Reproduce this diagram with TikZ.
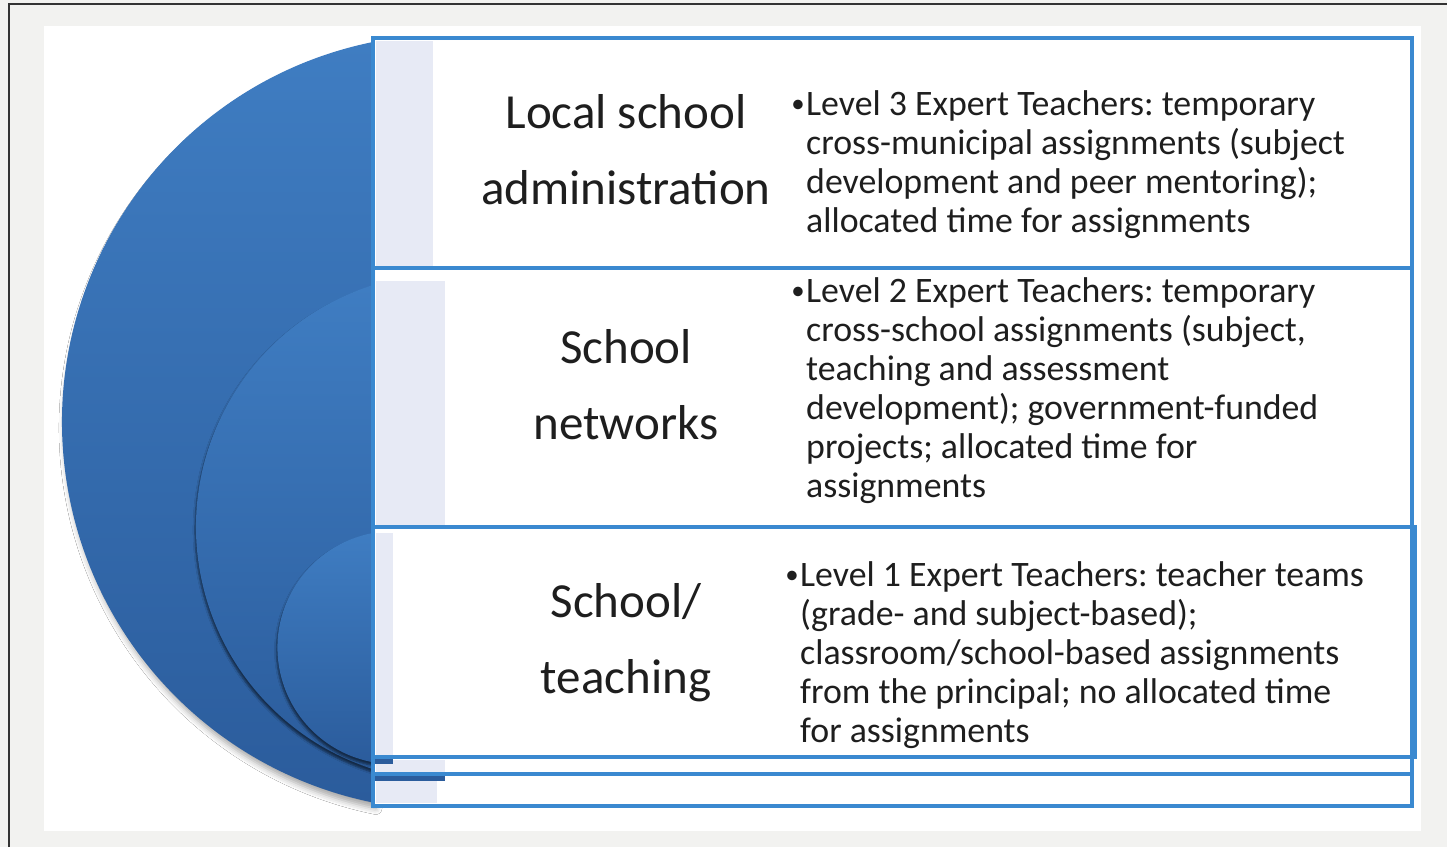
\documentclass[tikz,border=0pt]{standalone}
\usepackage{fontspec}
\usepackage{graphicx}
\setmainfont{Carlito}
\usetikzlibrary{shadows.blur}
\definecolor{bgray}{HTML}{F2F2F0}
\definecolor{frameline}{HTML}{333333}
\definecolor{rectblue}{HTML}{3A89D0}
\definecolor{stripc}{HTML}{E7EAF5}
\definecolor{ctop}{HTML}{3F7DC2}
\definecolor{cbot}{HTML}{2B5C9C}
\definecolor{txt}{HTML}{1E1E1E}
\frenchspacing
\newcommand{\ctwo}[2]{\vtop{\halign{\hfil##\hfil\cr #1\cr #2\cr}}}
\newcommand{\blines}[1]{\vtop{\halign{##\hfil\cr #1}}}
\newcommand{\bul}{\llap{\raisebox{2.5pt}{\scalebox{0.75}{•}}\hspace{1.5pt}}}
\begin{document}
\begin{tikzpicture}[x=1pt, y=1pt,
  rectline/.style={draw=rectblue, line width=3.2pt},
  stripfill/.style={fill=stripc},
  disc/.style={top color=ctop, bottom color=cbot},
  titlestyle/.style={anchor=base, inner sep=0pt, text=txt, font=\fontsize{49}{76}\selectfont},
  bodystyle/.style={anchor=base west, inner sep=0pt, text=txt, font=\fontsize{35.8}{39}\selectfont},
]
\useasboundingbox (0,0) rectangle (1447,-847);
\fill[bgray] (0,0) rectangle (1447,-847);
\draw[frameline, line width=2pt] (9,-847) -- (9,-4) -- (1447,-4);
\fill[white] (44,-26) rectangle (1421,-831);

% nested discs
\shade[disc, blur shadow={shadow xshift=3pt, shadow yshift=-6pt, shadow blur radius=6pt, shadow opacity=35}]
  (373,-42) arc[start angle=101.45, end angle=258.55, radius=388] -- cycle;
\shade[disc, blur shadow={shadow xshift=-1pt, shadow yshift=-3pt, shadow blur radius=2pt, shadow opacity=55}]
  (373,-285) arc[start angle=107.65, end angle=252.35, radius=254] -- cycle;
\shade[disc, blur shadow={shadow xshift=-1pt, shadow yshift=-3pt, shadow blur radius=2pt, shadow opacity=55}]
  (373,-533) arc[start angle=100.35, end angle=259.65, radius=116.5] -- cycle;

% stacked boxes
\fill[white] (373,-38) rectangle (1412,-806);
\fill[stripfill] (376,-41) rectangle (433,-266);
\fill[stripfill] (376,-777) rectangle (437,-803);
\fill[white] (373,-268) rectangle (1412,-774);
\fill[stripfill] (376,-281) rectangle (445,-525);
\fill[stripfill] (376,-760) rectangle (445,-772);
\fill[white] (373,-527) rectangle (1415,-757);
\fill[stripfill] (376,-533) rectangle (393,-755);
\fill[cbot] (373,-757) rectangle (393,-764);
\fill[cbot] (373,-774) rectangle (445,-781);
\draw[rectline] (373,-38) rectangle (1412,-806);
\draw[rectline] (373,-268) rectangle (1412,-774);
\draw[rectline] (373,-527) rectangle (1415,-757);

% titles
\node[titlestyle] (t3) at (626,-128) {\ctwo{Local school}{administration}};
\node[titlestyle] (t2) at (626,-363) {\ctwo{School}{networks}};
\node[titlestyle] (t1) at (626,-617) {\ctwo{School/}{teaching}};

% bullet texts
\node[bodystyle] (b3) at (806,-115) {\blines{\bul Level 3 Expert Teachers: temporary\cr
cross-municipal assignments (subject\cr
development and peer mentoring);\cr
allocated time for assignments\cr}};
\node[bodystyle] (b2) at (806,-302) {\blines{\bul Level 2 Expert Teachers: temporary\cr
cross-school assignments (subject,\cr
teaching and assessment\cr
development); government-funded\cr
projects; allocated time for\cr
assignments\cr}};
\node[bodystyle] (b1) at (800,-586) {\blines{\bul Level 1 Expert Teachers: teacher teams\cr
(grade- and subject-based);\cr
classroom/school-based assignments\cr
from the principal; no allocated time\cr
for assignments\cr}};
\end{tikzpicture}
\end{document}
